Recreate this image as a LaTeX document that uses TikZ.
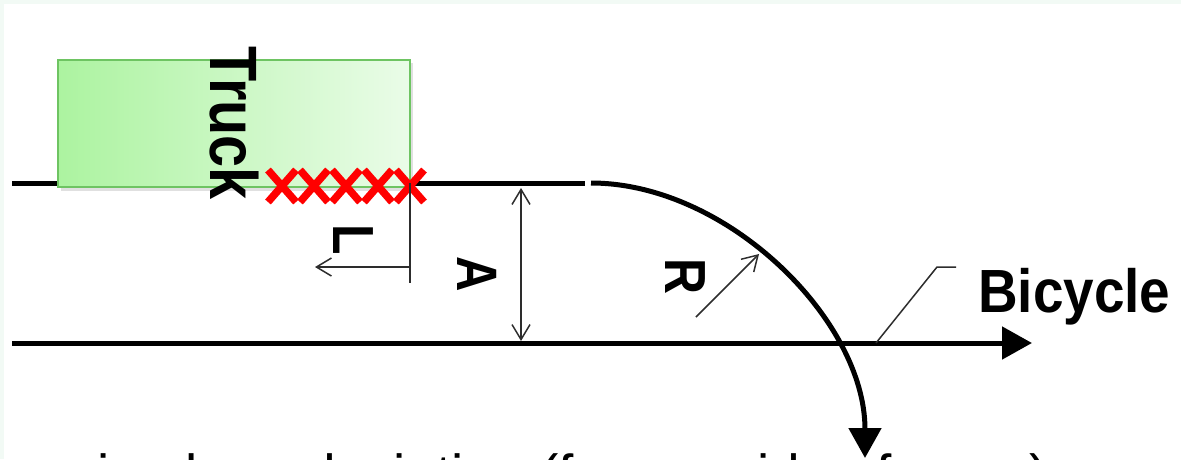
\documentclass[tikz,border=0pt]{standalone}
\usepackage{fontspec}
\setmainfont{Liberation Sans}
\newfontfamily\lblfont[FakeStretch=0.86]{Liberation Sans}
\newfontfamily\bikefont[FakeStretch=0.9]{Liberation Sans}
\usetikzlibrary{arrows.meta}
\definecolor{mint}{RGB}{242,250,245}
\definecolor{truckL}{RGB}{172,243,160}
\definecolor{truckR}{RGB}{234,252,232}
\definecolor{truckB}{RGB}{110,196,98}
\definecolor{thinc}{RGB}{45,45,45}
\definecolor{xred}{RGB}{255,0,0}
\tikzset{
  road/.style={line width=5pt, black},
  roadarrow/.style={road, -{Triangle[length=30pt,width=32pt]}},
  thinline/.style={line width=1.5pt, thinc},
  openarrow/.style={thinline, -{Straight Barb[length=15pt,width=18pt]}},
  dimarrow/.style={thinline, {Straight Barb[length=15pt,width=18pt]}-{Straight Barb[length=15pt,width=18pt]}},
  vlabel/.style={inner sep=0pt, anchor=base west, rotate=-90, font=\lblfont\bfseries},
  xmark/.style={line width=7.5pt, xred},
  truckbox/.style={draw=truckB, line width=1.2pt, left color=truckL, right color=truckR}
}
\begin{document}
\begin{tikzpicture}[x=1pt,y=-1pt]
\useasboundingbox (0,0) rectangle (1181,459);
\clip (0,0) rectangle (1181,459);
\fill[mint] (0,0) rectangle (1181,459);
\fill[white] (4,4) rectangle (1181,459);

% named points
\coordinate (roadW) at (12,183);
\coordinate (roadE) at (585,183);
\coordinate (curveS) at (591,183);
\coordinate (curveE) at (865,458);
\coordinate (bikeW) at (12,343);
\coordinate (bikeE) at (1032,343);

% upper road line
\draw[road] (roadW) -- (roadE);

% truck
\fill[black, opacity=0.12] (61,63) rectangle (413,191);
\path[truckbox] (58,60) rectangle (410,187);
\node[vlabel, font=\lblfont\bfseries\fontsize{67}{67}\selectfont] (truck) at (210,46) {Truck};

% red crosses
\foreach \cx in {282,314,346,378,410}{
  \draw[xmark] (\cx-14,170) -- (\cx+14,202);
  \draw[xmark] (\cx-14,202) -- (\cx+14,170);
}

% L dimension
\coordinate (Ltop) at (410,183);
\coordinate (Lbot) at (410,283);
\coordinate (Lstart) at (410,267);
\coordinate (Lend) at (315,267);
\draw[thinline] (Ltop) -- (Lbot);
\draw[openarrow] (Lstart) -- (Lend);
\node[vlabel, font=\lblfont\bfseries\fontsize{58}{58}\selectfont] (L) at (333,224) {L};

% A dimension
\coordinate (Atop) at (521,188);
\coordinate (Abot) at (521,341);
\draw[dimarrow] (Atop) -- (Abot);
\node[vlabel, font=\lblfont\bfseries\fontsize{57}{57}\selectfont] (A) at (457,256) {A};

% bicycle line
\draw[roadarrow] (bikeW) -- (bikeE);

% turning curve
\draw[road, -{Triangle[length=30pt,width=32pt]}] (curveS) .. controls (727,183) and (865,320) .. (curveE);

% R arrow
\coordinate (Rtail) at (696,317);
\coordinate (Rtip) at (759,254);
\draw[openarrow] (Rtail) -- (Rtip);
\node[vlabel, font=\lblfont\bfseries\fontsize{58}{58}\selectfont] (R) at (665,258) {R};

% bicycle label
\coordinate (leadA) at (876,343);
\coordinate (leadB) at (937,267);
\coordinate (leadC) at (956,267);
\draw[thinline] (leadA) -- (leadB) -- (leadC);
\node[inner sep=0pt, anchor=base west, font=\bikefont\bfseries\fontsize{61}{61}\selectfont] (bike) at (978,312) {Bicycle};

% caption (cut off by the lower edge, as in the reference)
\node[inner sep=0pt, anchor=base west, font=\fontsize{55}{55}\selectfont] (caption) at (-13,493) {running lane deviation (from a side of a car)};
\end{tikzpicture}
\end{document}
